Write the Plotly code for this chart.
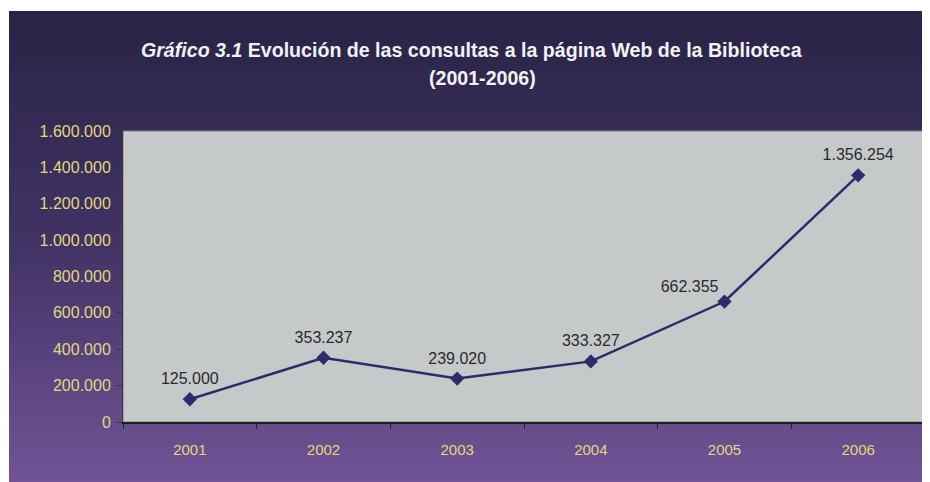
import plotly.graph_objects as go

years = ["2001", "2002", "2003", "2004", "2005", "2006"]
consultas = [125000, 353237, 239020, 333327, 662355, 1356254]
y_ticks = [0, 200000, 400000, 600000, 800000, 1000000, 1200000, 1400000, 1600000]
title_main = "<i>Gráfico 3.1</i> Evolución de las consultas a la página Web de la Biblioteca"
title_sub = "(2001-2006)"

# The page body has an 8px margin, so the figure is drawn 8px in from the window.
W, H = 922, 474
L, R, T, B = 115, 5, 123, 60
pw, ph = W - L - R, H - T - B
FONT = "Liberation Sans, Arial"


def px2x(px):
    return (px - L) / pw


def py2y(py):
    return (H - B - py) / ph


def fmt(v):
    return f"{v:,}".replace(",", ".")


labels = [fmt(v) for v in consultas]
label_pos = ["top center", "top center", "top center", "top center", "top left", "top center"]
label_gap = [16, 16, 16, 16, 8, 16]

fig = go.Figure()
fig.add_trace(go.Scatter(
    x=years, y=consultas, mode="lines+markers",
    line=dict(color="#2e2a6c", width=2.5),
    marker=dict(symbol="diamond", size=11, color="#2e2a6c"),
    hoverinfo="skip",
))
fig.add_trace(go.Scatter(
    x=years, y=consultas, mode="markers+text",
    marker=dict(size=label_gap, opacity=0),
    text=labels, textposition=label_pos,
    textfont=dict(family=FONT, size=16, color="#2a2a2e"),
    cliponaxis=False, hoverinfo="skip",
))

annotations = [
    dict(text="<b>" + title_main + "</b>", xref="paper", yref="paper",
         x=px2x(463.5), y=py2y(42), showarrow=False, xanchor="center", yanchor="middle",
         font=dict(size=19.6, color="#f2f2f4", family=FONT)),
    dict(text="<b>" + title_sub + "</b>", xref="paper", yref="paper",
         x=px2x(474), y=py2y(70), showarrow=False, xanchor="center", yanchor="middle",
         font=dict(size=19.6, color="#f2f2f4", family=FONT)),
]

# gradient background frame (overlapping bands, top to bottom)
shapes = []
top_c = (42, 36, 70)
mid_c = (66, 52, 102)
bot_c = (114, 84, 150)
fx0, fy0, fx1, fy1 = 1, 3, W + 2, H + 2
n = 80
for i in range(n):
    t = i / (n - 1)
    if t < 0.5:
        u = t / 0.5
        c = tuple(int(top_c[k] + (mid_c[k] - top_c[k]) * u) for k in range(3))
    else:
        u = (t - 0.5) / 0.5
        c = tuple(int(mid_c[k] + (bot_c[k] - mid_c[k]) * u) for k in range(3))
    a = fy0 + (fy1 - fy0) * i / n
    shapes.append(dict(type="rect", xref="paper", yref="paper", layer="below",
                       x0=px2x(fx0), x1=px2x(fx1), y0=py2y(fy1), y1=py2y(a),
                       line=dict(width=0), fillcolor="rgb(%d,%d,%d)" % c))
# plot area
shapes.append(dict(type="rect", xref="paper", yref="paper", layer="below",
                   x0=0, x1=1, y0=0, y1=1, line=dict(width=1, color="#808080"),
                   fillcolor="#c5c9ca"))

fig.update_layout(
    width=W, height=H,
    margin=dict(l=L, r=R, t=T, b=B),
    paper_bgcolor="white", plot_bgcolor="#c5c9ca",
    showlegend=False,
    separators=",.",
    shapes=shapes,
    annotations=annotations,
    font=dict(family=FONT),
)
fig.update_xaxes(
    type="category", tickson="boundaries", ticks="outside", ticklen=5,
    tickcolor="#222", showline=True, linecolor="#1e1e1e", linewidth=2,
    showgrid=False, tickfont=dict(size=15, color="#e2d77e"),
    ticklabelstandoff=13, range=[-0.5, 5.5],
)
fig.update_yaxes(
    range=[0, 1600000], tickvals=y_ticks, tickformat=",d", ticks="outside", ticklen=5,
    tickcolor="#333", showline=True, linecolor="#3a3a3a", linewidth=1,
    showgrid=False, zeroline=False, tickfont=dict(size=16, color="#e2d77e"),
    ticklabelstandoff=3,
)

fig.write_html("out.html")
